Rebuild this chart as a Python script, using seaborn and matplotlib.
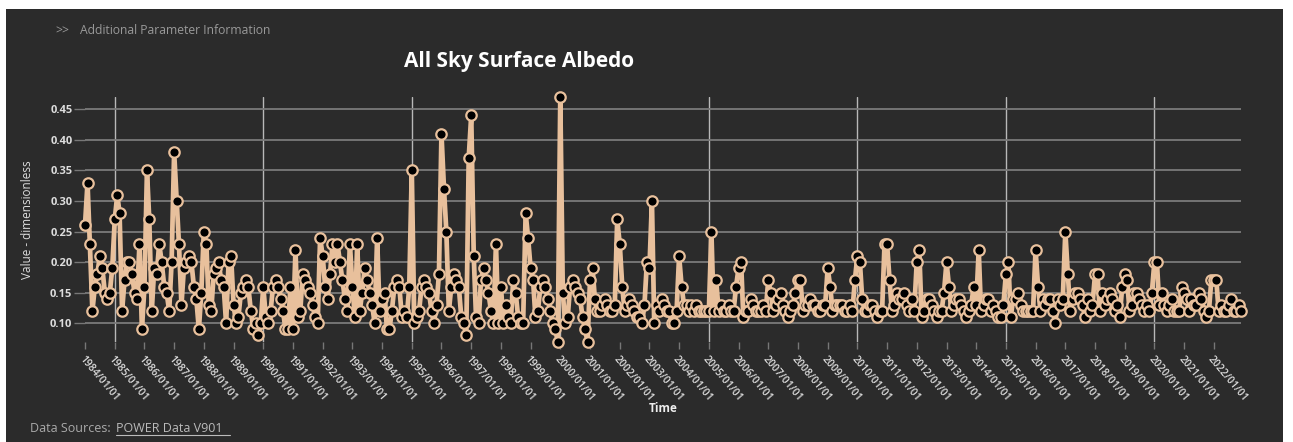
import numpy as np
import pandas as pd
import matplotlib
matplotlib.use("Agg")
import matplotlib.pyplot as plt
import matplotlib.dates as mdates
import matplotlib.transforms as mtransforms
from matplotlib.patches import Rectangle
import seaborn as sns

# ---- data (monthly values) ----
y1984 = [0.26, 0.33, 0.23, 0.12, 0.16, 0.18, 0.21, 0.19, 0.15, 0.14, 0.15, 0.19]
y1985 = [0.27, 0.31, 0.28, 0.12, 0.17, 0.20, 0.20, 0.18, 0.15, 0.14, 0.23, 0.09]
y1986 = [0.16, 0.35, 0.27, 0.12, 0.19, 0.18, 0.23, 0.20, 0.16, 0.15, 0.12, 0.20]
y1987 = [0.38, 0.30, 0.23, 0.13, 0.19, 0.20, 0.21, 0.20, 0.16, 0.14, 0.09, 0.15]
y1988 = [0.25, 0.23, 0.13, 0.12, 0.18, 0.19, 0.20, 0.17, 0.16, 0.10, 0.20, 0.21]
y1989 = [0.13, 0.10, 0.11, 0.15, 0.16, 0.17, 0.16, 0.12, 0.09, 0.10, 0.08, 0.10]
y1990 = [0.16, 0.11, 0.10, 0.12, 0.16, 0.17, 0.16, 0.14, 0.12, 0.09, 0.09, 0.16]
y1991 = [0.09, 0.22, 0.11, 0.12, 0.18, 0.17, 0.16, 0.15, 0.13, 0.11, 0.10, 0.24]
y1992 = [0.21, 0.16, 0.14, 0.18, 0.23, 0.20, 0.23, 0.20, 0.17, 0.14, 0.12, 0.23]
y1993 = [0.16, 0.11, 0.23, 0.12, 0.15, 0.19, 0.17, 0.15, 0.13, 0.10, 0.24, 0.12]
y1994 = [0.14, 0.15, 0.09, 0.09, 0.12, 0.16, 0.17, 0.16, 0.11, 0.12, 0.11, 0.16]
y1995 = [0.35, 0.10, 0.11, 0.12, 0.16, 0.17, 0.16, 0.15, 0.12, 0.10, 0.13, 0.18]
y1996 = [0.41, 0.32, 0.25, 0.12, 0.16, 0.18, 0.17, 0.16, 0.11, 0.10, 0.08, 0.37]
y1997 = [0.44, 0.21, 0.11, 0.10, 0.17, 0.19, 0.17, 0.15, 0.12, 0.10, 0.23, 0.10]
y1998 = [0.16, 0.10, 0.13, 0.11, 0.10, 0.17, 0.15, 0.11, 0.10, 0.10, 0.28, 0.24]
y1999 = [0.19, 0.17, 0.11, 0.12, 0.16, 0.17, 0.16, 0.14, 0.12, 0.10, 0.09, 0.07]
y2000 = [0.47, 0.15, 0.10, 0.11, 0.16, 0.17, 0.16, 0.15, 0.14, 0.11, 0.09, 0.07]
y2001 = [0.17, 0.19, 0.14, 0.12, 0.12, 0.13, 0.14, 0.13, 0.12, 0.12, 0.13, 0.27]
y2002 = [0.23, 0.16, 0.12, 0.13, 0.14, 0.13, 0.12, 0.11, 0.11, 0.10, 0.13, 0.20]
y2003 = [0.19, 0.30, 0.10, 0.13, 0.12, 0.14, 0.13, 0.12, 0.12, 0.10, 0.10, 0.12]
y2004 = [0.21, 0.16, 0.13, 0.13, 0.12, 0.13, 0.12, 0.13, 0.12, 0.12, 0.12, 0.12]
y2005 = [0.12, 0.25, 0.12, 0.17, 0.12, 0.13, 0.12, 0.12, 0.13, 0.12, 0.12, 0.16]
y2006 = [0.19, 0.20, 0.11, 0.12, 0.12, 0.14, 0.13, 0.12, 0.12, 0.12, 0.13, 0.12]
y2007 = [0.17, 0.15, 0.12, 0.13, 0.14, 0.15, 0.13, 0.12, 0.11, 0.12, 0.13, 0.15]
y2008 = [0.17, 0.17, 0.12, 0.13, 0.13, 0.14, 0.13, 0.13, 0.12, 0.12, 0.13, 0.13]
y2009 = [0.19, 0.16, 0.12, 0.13, 0.13, 0.13, 0.13, 0.12, 0.12, 0.13, 0.12, 0.17]
y2010 = [0.21, 0.20, 0.14, 0.12, 0.12, 0.13, 0.13, 0.12, 0.11, 0.12, 0.12, 0.23]
y2011 = [0.23, 0.17, 0.12, 0.13, 0.15, 0.14, 0.14, 0.15, 0.13, 0.12, 0.14, 0.12]
y2012 = [0.20, 0.22, 0.11, 0.12, 0.14, 0.14, 0.13, 0.12, 0.11, 0.12, 0.12, 0.15]
y2013 = [0.20, 0.16, 0.12, 0.13, 0.14, 0.14, 0.13, 0.12, 0.11, 0.12, 0.13, 0.16]
y2014 = [0.13, 0.22, 0.12, 0.13, 0.14, 0.14, 0.12, 0.13, 0.12, 0.11, 0.11, 0.13]
y2015 = [0.18, 0.20, 0.11, 0.14, 0.14, 0.15, 0.13, 0.12, 0.12, 0.12, 0.12, 0.12]
y2016 = [0.22, 0.16, 0.12, 0.14, 0.13, 0.14, 0.14, 0.12, 0.10, 0.14, 0.13, 0.14]
y2017 = [0.25, 0.18, 0.12, 0.14, 0.15, 0.15, 0.14, 0.13, 0.11, 0.14, 0.12, 0.13]
y2018 = [0.18, 0.18, 0.12, 0.15, 0.13, 0.14, 0.15, 0.14, 0.12, 0.13, 0.11, 0.16]
y2019 = [0.18, 0.17, 0.12, 0.13, 0.15, 0.15, 0.14, 0.13, 0.12, 0.13, 0.12, 0.15]
y2020 = [0.20, 0.20, 0.13, 0.15, 0.13, 0.12, 0.13, 0.14, 0.12, 0.12, 0.12, 0.16]
y2021 = [0.15, 0.14, 0.12, 0.14, 0.13, 0.13, 0.15, 0.14, 0.12, 0.11, 0.12, 0.17]
y2022 = [0.17, 0.17, 0.12, 0.13, 0.12, 0.12, 0.13, 0.14, 0.12, 0.12, 0.13, 0.12]

years_data = [y1984, y1985, y1986, y1987, y1988, y1989, y1990, y1991, y1992, y1993,
              y1994, y1995, y1996, y1997, y1998, y1999, y2000, y2001, y2002, y2003,
              y2004, y2005, y2006, y2007, y2008, y2009, y2010, y2011, y2012, y2013,
              y2014, y2015, y2016, y2017, y2018, y2019, y2020, y2021, y2022]
values = [v for yr in years_data for v in yr]
dates = pd.date_range("1984-01-01", periods=len(values), freq="MS")
df = pd.DataFrame({"Time": dates, "Value": values})

title = "All Sky Surface Albedo"
y_label = "Value - dimensionless"
x_label = "Time"
y_ticks = [0.10, 0.15, 0.20, 0.25, 0.30, 0.35, 0.40, 0.45]

# ---- style ----
BG = "#2b2b2b"
LINE = "#e8c09c"
sns.set_theme(style="dark")
plt.rcParams["font.family"] = ["Open Sans", "DejaVu Sans"]

W, H = 1293, 442
fig = plt.figure(figsize=(W / 100, H / 100), dpi=100, facecolor=BG)
ax = fig.add_axes([85 / W, 1 - 341.6 / H, (1241 - 85) / W, (341.6 - 97) / H])
ax.set_facecolor(BG)

sns.lineplot(data=df, x="Time", y="Value", ax=ax, color=LINE, linewidth=3.4,
             marker="o", markersize=7.5, markerfacecolor="black",
             markeredgecolor=LINE, markeredgewidth=1.6, zorder=3)
for ln in ax.get_lines():
    ln.set_clip_on(False)

ax.set_xlim(dates[0], dates[-1])
ax.set_ylim(0.07, 0.47)
ax.set_yticks(y_ticks)
ax.set_yticklabels([f"{t:.2f}" for t in y_ticks], fontsize=8, fontweight="bold", color="#dddddd")

ax.xaxis.remove_overlapping_locs = False
ax.xaxis.set_major_locator(mdates.YearLocator(1))
ax.xaxis.set_major_formatter(mdates.DateFormatter("%Y/%m/%d"))
ax.xaxis.set_minor_locator(mdates.YearLocator(5))
shift = mtransforms.ScaledTranslation(4 / 100, -2 / 100, fig.dpi_scale_trans)
for lab in ax.get_xticklabels():
    lab.set_rotation(-50)
    lab.set_ha("left")
    lab.set_va("top")
    lab.set_rotation_mode("anchor")
    lab.set_fontsize(7.4)
    lab.set_fontweight("semibold")
    lab.set_color("#dddddd")
    lab.set_transform(lab.get_transform() + shift)

ax.tick_params(axis="x", which="major", length=5, width=1, color="#777777", pad=4, bottom=True)
ax.tick_params(axis="x", which="minor", length=0)
ax.tick_params(axis="y", length=8, width=1, color="#777777", pad=1, left=True)

ax.grid(False)
ax.grid(True, axis="y", which="major", color="#7a7a7a", linewidth=1.3)
ax.grid(True, axis="x", which="minor", color="#b8b8b8", linewidth=1.0)
for s in ax.spines.values():
    s.set_visible(False)

ax.set_xlabel(x_label, fontsize=8.5, fontweight="bold", color="#eeeeee")
ax.set_ylabel(y_label, fontsize=8.5, color="#dddddd")
ax.xaxis.set_label_coords((663 - 85) / (1241 - 85), -(402 - 341.6) / (341.6 - 97))
ax.yaxis.set_label_coords(-(85 - 34) / (1241 - 85), 0.5)

fig.text(519 / W, 1 - 61 / H, title, ha="center", va="center", fontsize=15,
         fontweight="bold", color="white")
fig.text(55 / W, 1 - 31 / H, ">>", ha="left", va="center", fontsize=8.7, color="#999999")
fig.text(80 / W, 1 - 31 / H, "Additional Parameter Information", ha="left", va="center",
         fontsize=8.7, color="#999999")
fig.text(30 / W, 1 - 428 / H, "Data Sources:", ha="left", va="center", fontsize=9, color="#aaaaaa")
fig.text(116 / W, 1 - 428 / H, "POWER Data V901", ha="left", va="center", fontsize=9,
         color="#bbbbbb")
# underline for the link
fig.add_artist(plt.Line2D([116 / W, 230 / W], [1 - 435 / H, 1 - 435 / H], color="#bbbbbb",
                          linewidth=0.8))

# white page margins around the dark panel
fig.add_artist(Rectangle((0, 1 - 9 / H), 1, 9 / H, transform=fig.transFigure,
                         facecolor="white", edgecolor="none", zorder=10))
fig.add_artist(Rectangle((0, 0), 6 / W, 1, transform=fig.transFigure,
                         facecolor="white", edgecolor="none", zorder=10))
fig.add_artist(Rectangle((1283 / W, 0), 10 / W, 1, transform=fig.transFigure,
                         facecolor="white", edgecolor="none", zorder=10))

fig.savefig("out.png", dpi=100, facecolor=BG)
